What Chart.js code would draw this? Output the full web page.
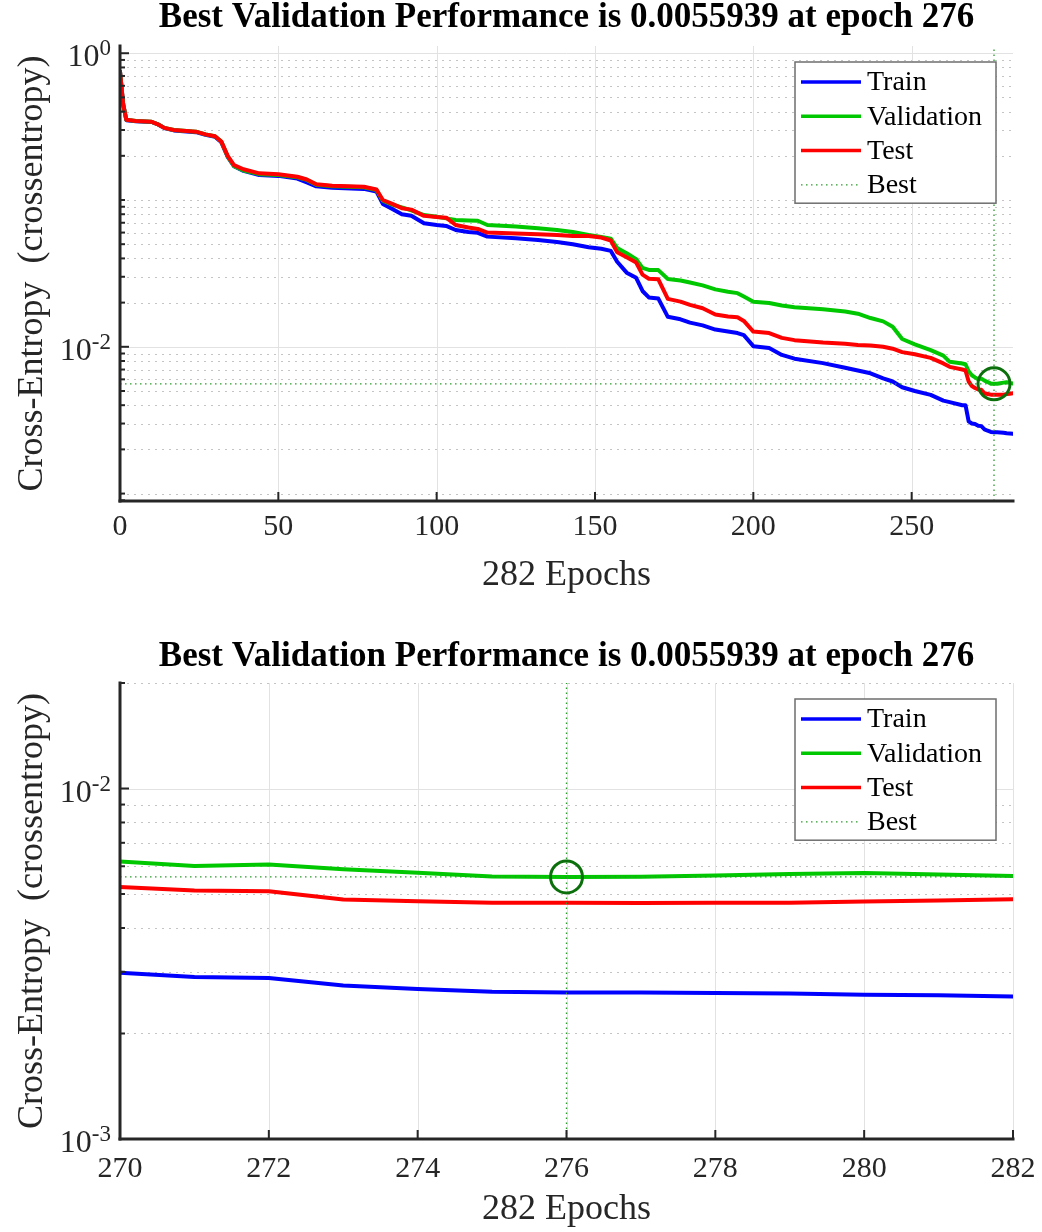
<!DOCTYPE html>
<html>
<head>
<meta charset="utf-8">
<title>Training performance</title>
<script src="https://cdn.jsdelivr.net/npm/chart.js@4.4.1/dist/chart.umd.min.js"></script>
<style>
  html, body { margin: 0; padding: 0; background: #fff; }
  .plot { position: absolute; left: 0; width: 1042px; height: 616px; }
</style>
</head>
<body>
<div class="plot" style="top:0"><canvas id="perfFull" width="1042" height="616"></canvas></div>
<div class="plot" style="top:616px"><canvas id="perfZoom" width="1042" height="616"></canvas></div>
<script>
// cross-entropy per epoch, read at the breakpoints of each curve
const epochs = [0, 1, 2, 5, 10, 12, 14, 17, 24, 27, 30, 32, 34, 36, 39, 44, 50, 56, 59, 62,
  67, 77, 81, 83, 86, 89, 92, 96, 100, 103, 106, 110, 113, 116, 125, 132, 138, 143, 148, 152,
  155, 157, 160, 163, 165, 167, 170, 173, 177, 180, 184, 188, 192, 195, 197, 200, 205, 209, 213, 222,
  229, 233, 237, 241, 244, 247, 251, 256, 260, 262, 266, 267, 268, 269,
  270, 271, 272, 273, 274, 275, 276, 277, 278, 279, 280, 281, 282];

const trainLoss = [0.75, 0.45, 0.35, 0.344, 0.340, 0.327, 0.309, 0.298, 0.290, 0.278, 0.270, 0.248, 0.197, 0.170, 0.158, 0.148, 0.146, 0.140, 0.132, 0.124,
  0.121, 0.119, 0.114, 0.094, 0.087, 0.080, 0.078, 0.0694, 0.0675, 0.0666, 0.0625, 0.0605, 0.0598, 0.0563, 0.0548, 0.0534, 0.0518, 0.0500, 0.0477, 0.0465,
  0.0450, 0.0380, 0.0320, 0.0295, 0.0240, 0.0217, 0.0213, 0.0160, 0.0154, 0.0146, 0.0140, 0.0131, 0.0127, 0.0124, 0.0120, 0.0101, 0.0098, 0.0088, 0.0083, 0.00774,
  0.0072, 0.0069, 0.0066, 0.0061, 0.0058, 0.0053, 0.0050, 0.0047, 0.0043, 0.0042, 0.0040, 0.0040, 0.0031, 0.0030,
  0.00298, 0.00290, 0.00288, 0.00274, 0.00268, 0.00263, 0.00262, 0.00262, 0.00261, 0.00260, 0.00258, 0.00257, 0.00255];

const valLoss = [0.75, 0.45, 0.352, 0.345, 0.341, 0.328, 0.310, 0.300, 0.292, 0.280, 0.272, 0.250, 0.198, 0.170, 0.159, 0.150, 0.148, 0.143, 0.137, 0.127,
  0.124, 0.122, 0.117, 0.099, 0.093, 0.089, 0.085, 0.079, 0.077, 0.075, 0.073, 0.0725, 0.0722, 0.0676, 0.0660, 0.0641, 0.0625, 0.0605, 0.0578, 0.0560,
  0.0545, 0.0470, 0.0434, 0.0395, 0.0345, 0.0334, 0.0333, 0.0290, 0.0283, 0.0274, 0.0262, 0.0246, 0.0237, 0.0232, 0.0220, 0.0203, 0.0199, 0.0191, 0.0186, 0.0180,
  0.0174, 0.0168, 0.0157, 0.0149, 0.0137, 0.0113, 0.0104, 0.0095, 0.0087, 0.0079, 0.0077, 0.0076, 0.0068, 0.0064,
  0.00619, 0.00601, 0.00607, 0.00588, 0.00575, 0.00561, 0.0055939, 0.00560, 0.00565, 0.00570, 0.00574, 0.00568, 0.00563];

const testLoss = [0.75, 0.45, 0.352, 0.345, 0.341, 0.328, 0.310, 0.300, 0.292, 0.280, 0.272, 0.250, 0.200, 0.173, 0.162, 0.152, 0.150, 0.144, 0.138, 0.128,
  0.125, 0.123, 0.118, 0.100, 0.094, 0.088, 0.086, 0.078, 0.0765, 0.0758, 0.0676, 0.0650, 0.0635, 0.0600, 0.0592, 0.0584, 0.0577, 0.0569, 0.0569, 0.0555,
  0.0530, 0.0440, 0.0407, 0.0375, 0.0310, 0.0291, 0.0288, 0.0212, 0.0203, 0.0193, 0.0183, 0.0166, 0.0161, 0.0159, 0.0150, 0.0127, 0.0124, 0.0115, 0.0111, 0.0107,
  0.0105, 0.0103, 0.0102, 0.0100, 0.0097, 0.0092, 0.0089, 0.0084, 0.0077, 0.0073, 0.0070, 0.0069, 0.0058, 0.0054,
  0.00524, 0.00512, 0.00509, 0.00482, 0.00477, 0.00472, 0.00472, 0.00471, 0.00472, 0.00472, 0.00476, 0.00479, 0.00483];

const bestEpoch = 276;
const bestPerf = 0.0055939;

const fullXTicks = [0, 50, 100, 150, 200, 250];
const zoomXTicks = [270, 272, 274, 276, 278, 280, 282];
const fullYLabels = [1, 0.01];
const zoomYLabels = [0.01, 0.001];

const SERIF = '"Liberation Serif", "Times New Roman", serif';
const AXIS_COLOR = '#262626';
const TITLE = `Best Validation Performance is ${bestPerf} at epoch ${bestEpoch}`;

function sameValue(a, b) {
  return Math.abs(Math.log10(a) - Math.log10(b)) < 1e-6;
}

function logTicks(min, max) {
  const out = [];
  for (let k = Math.floor(Math.log10(min)); k <= Math.ceil(Math.log10(max)); k++) {
    for (let m = 1; m <= 9; m++) {
      const v = m * Math.pow(10, k);
      if (v >= min && v <= max) out.push({ value: v });
    }
  }
  return out;
}

function seg(ctx, x1, y1, x2, y2) {
  ctx.beginPath();
  ctx.moveTo(x1, y1);
  ctx.lineTo(x2, y2);
  ctx.stroke();
}

// grid, inward ticks, superscript y labels, title over the axes and boxed legend
const matlabAxes = {
  id: 'matlabAxes',
  beforeDatasetsDraw(chart, args, opts) {
    const { ctx, chartArea: a, scales: { x, y } } = chart;
    const isMajor = (v) => opts.yLabels.some((l) => sameValue(l, v));
    ctx.save();
    ctx.lineWidth = 1;
    ctx.strokeStyle = '#c4c4c4';
    ctx.setLineDash([2, 5]);
    y.ticks.forEach((t) => {
      if (isMajor(t.value)) return;
      const py = Math.round(y.getPixelForValue(t.value)) + 0.5;
      seg(ctx, a.left, py, a.right, py);
    });
    ctx.setLineDash([]);
    ctx.strokeStyle = '#e2e2e2';
    opts.yLabels.forEach((v) => {
      const py = Math.round(y.getPixelForValue(v)) + 0.5;
      seg(ctx, a.left, py, a.right, py);
    });
    x.ticks.forEach((t) => {
      const px = Math.round(x.getPixelForValue(t.value)) + 0.5;
      seg(ctx, px, a.top, px, a.bottom);
    });
    ctx.restore();
  },
  afterDatasetsDraw(chart, args, opts) {
    const { ctx, chartArea: a, scales: { x, y } } = chart;
    const isMajor = (v) => opts.yLabels.some((l) => sameValue(l, v));
    ctx.save();
    ctx.strokeStyle = AXIS_COLOR;
    ctx.lineWidth = 2;
    y.ticks.forEach((t) => {
      const py = y.getPixelForValue(t.value);
      seg(ctx, a.left, py, a.left + (isMajor(t.value) ? 9 : 5), py);
    });
    x.ticks.forEach((t) => {
      const px = x.getPixelForValue(t.value);
      seg(ctx, px, a.bottom, px, a.bottom - 9);
    });
    ctx.lineWidth = 3;
    ctx.lineCap = 'square';
    seg(ctx, a.left, a.top, a.left, a.bottom);
    seg(ctx, a.left, a.bottom, a.right, a.bottom);

    ctx.fillStyle = AXIS_COLOR;
    ctx.textAlign = 'right';
    ctx.textBaseline = 'alphabetic';
    opts.yLabels.forEach((v) => {
      const py = y.getPixelForValue(v);
      const exp = String(Math.round(Math.log10(v)));
      const right = a.left - 9;
      ctx.font = `23px ${SERIF}`;
      const ew = ctx.measureText(exp).width;
      ctx.fillText(exp, right, py + 2);
      ctx.font = `32px ${SERIF}`;
      ctx.fillText('10', right - ew, py + 13);
    });

    ctx.fillStyle = '#000';
    ctx.textAlign = 'center';
    ctx.textBaseline = 'middle';
    ctx.font = `bold 35px ${SERIF}`;
    ctx.fillText(opts.title, (a.left + a.right) / 2, opts.titleY);
    ctx.restore();
  },
  afterDraw(chart) {
    const { ctx, chartArea: a } = chart;
    const items = chart.data.datasets.filter((d) => d.inLegend);
    const w = 201, rowH = 34.3;
    const h = items.length * rowH + 4;
    const left = a.right - 17 - w;
    const top = a.top + 16;
    ctx.save();
    ctx.fillStyle = '#fff';
    ctx.fillRect(left, top, w, h);
    ctx.strokeStyle = '#6e6e6e';
    ctx.lineWidth = 1.5;
    ctx.strokeRect(left, top, w, h);
    ctx.font = `28px ${SERIF}`;
    ctx.textAlign = 'left';
    ctx.textBaseline = 'middle';
    items.forEach((d, i) => {
      const cy = top + 20 + i * rowH;
      ctx.strokeStyle = d.borderColor;
      ctx.lineWidth = d.borderDash ? 1.3 : 3.5;
      ctx.setLineDash(d.borderDash || []);
      seg(ctx, left + 6, cy, left + 66, cy);
      ctx.setLineDash([]);
      ctx.fillStyle = '#000';
      ctx.fillText(d.label, left + 72, cy + 1);
    });
    ctx.restore();
  },
};

function series(values) {
  return epochs.map((e, i) => ({ x: e, y: values[i] }));
}

function buildChart(canvasId, cfg) {
  const curve = (label, values, color, order) => ({
    label, inLegend: true, data: series(values), borderColor: color, backgroundColor: color,
    borderWidth: 4, pointRadius: 0, tension: 0, clip: 0, order,
    borderJoinStyle: 'round', borderCapStyle: 'round',
  });

  return new Chart(document.getElementById(canvasId), {
    type: 'line',
    data: {
      datasets: [
        curve('Train', trainLoss, '#0000ff', 5),
        curve('Validation', valLoss, '#00c800', 4),
        curve('Test', testLoss, '#ff0000', 3),
        {
          label: 'Best', inLegend: true,
          data: [
            { x: bestEpoch, y: cfg.yMin }, { x: bestEpoch, y: cfg.yMax }, { x: bestEpoch, y: null },
            { x: cfg.xMin, y: bestPerf }, { x: cfg.xMax, y: bestPerf },
          ],
          borderColor: '#2a9a2a', borderWidth: 1.3, borderDash: [1.5, 3.5],
          pointRadius: 0, spanGaps: false, clip: 0, order: 2,
        },
        {
          label: '', inLegend: false, type: 'scatter',
          data: [{ x: bestEpoch, y: bestPerf }],
          pointRadius: 16, pointBorderWidth: 3, pointBorderColor: '#0b700b',
          pointBackgroundColor: 'rgba(0,0,0,0)', showLine: false, order: 1,
        },
      ],
    },
    options: {
      responsive: false,
      animation: false,
      events: [],
      layout: { padding: { left: 0, right: 29, top: cfg.areaTop, bottom: 0 } },
      plugins: {
        legend: { display: false },
        tooltip: { enabled: false },
        title: { display: false },
        matlabAxes: { yLabels: cfg.yLabels, title: TITLE, titleY: cfg.titleY },
      },
      scales: {
        x: {
          type: 'linear',
          min: cfg.xMin,
          max: cfg.xMax,
          afterBuildTicks: (s) => { s.ticks = cfg.xTicks.map((v) => ({ value: v })); },
          afterFit: (s) => {
            s.height = cfg.xAxisHeight;
            s.paddingLeft = 0;
            s.paddingRight = 0;
          },
          grid: { display: false, drawTicks: false },
          border: { display: false },
          ticks: {
            color: AXIS_COLOR, padding: cfg.xTickPad, maxRotation: 0, autoSkip: false,
            font: { family: SERIF, size: 30 },
          },
          title: {
            display: true, text: '282 Epochs', color: AXIS_COLOR,
            font: { family: SERIF, size: 36 },
            padding: { top: 0, bottom: cfg.xTitlePad },
          },
        },
        y: {
          type: 'logarithmic',
          min: cfg.yMin,
          max: cfg.yMax,
          afterBuildTicks: (s) => { s.ticks = logTicks(cfg.yMin, cfg.yMax); },
          afterFit: (s) => { s.width = 120; },
          grid: { display: false, drawTicks: false },
          border: { display: false },
          ticks: { display: false },
          title: {
            display: true, text: 'Cross-Entropy  (crossentropy)', color: AXIS_COLOR,
            font: { family: SERIF, size: 36 },
            padding: { top: 11, bottom: 0 },
          },
        },
      },
    },
    plugins: [matlabAxes],
  });
}

buildChart('perfFull', {
  xMin: 0, xMax: 282, xTicks: fullXTicks,
  yMin: 0.00089, yMax: 1.12, yLabels: fullYLabels,
  areaTop: 46, titleY: 18,
  xAxisHeight: 115, xTickPad: 8, xTitlePad: 19,
});

buildChart('perfZoom', {
  xMin: 270, xMax: 282, xTicks: zoomXTicks,
  yMin: 0.001, yMax: 0.02, yLabels: zoomYLabels,
  areaTop: 67, titleY: 41,
  xAxisHeight: 93, xTickPad: 12, xTitlePad: 1,
});
</script>
</body>
</html>
